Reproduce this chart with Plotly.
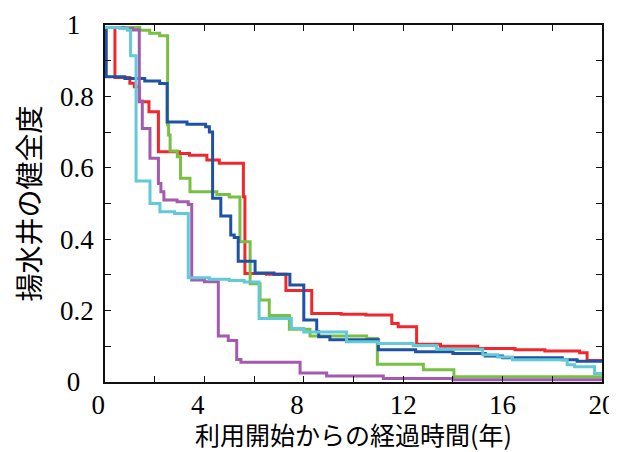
import plotly.graph_objects as go

# ---- data (years since start of use, soundness index) ----
red_x = [0, 0.4, 1.0, 1.18, 1.38, 1.77, 2.15, 3.0, 3.4, 4.1, 4.6, 5.57, 5.63, 6.5, 7.28, 8.32, 9.5, 10.5, 11.54, 11.8, 12.54, 13.5, 15.0, 16.5, 17.7, 19.1, 19.4, 20]
red_y = [0.993, 0.853, 0.837, 0.827, 0.785, 0.757, 0.645, 0.64, 0.635, 0.622, 0.613, 0.519, 0.304, 0.302, 0.256, 0.192, 0.19, 0.188, 0.164, 0.155, 0.106, 0.10, 0.094, 0.09, 0.087, 0.082, 0.06, 0.06]

green_x = [0, 1.4, 1.8, 2.2, 2.52, 2.56, 2.62, 2.91, 3.04, 3.42, 4.5, 5.0, 5.43, 5.84, 6.24, 6.61, 7.42, 8.25, 10.53, 10.96, 12.81, 14.04, 20]
green_y = [0.993, 0.985, 0.977, 0.97, 0.72, 0.692, 0.647, 0.631, 0.571, 0.533, 0.525, 0.518, 0.393, 0.275, 0.23, 0.186, 0.148, 0.129, 0.122, 0.05, 0.034, 0.015, 0.012]

blue_x = [0, 0.05, 0.8, 1.6, 2.2, 2.5, 3.3, 4.05, 4.2, 4.33, 4.66, 5.06, 5.2, 5.36, 6.04, 6.8, 7.44, 8.0, 8.52, 8.6, 9.05, 11.0, 12.5, 14.0, 15.3, 16.0, 18.4, 19.0, 20]
blue_y = [0.993, 0.855, 0.85, 0.843, 0.836, 0.728, 0.722, 0.715, 0.70, 0.515, 0.465, 0.412, 0.405, 0.338, 0.305, 0.302, 0.272, 0.174, 0.141, 0.127, 0.118, 0.09, 0.085, 0.08, 0.073, 0.068, 0.062, 0.058, 0.058]

purple_x = [0, 0.75, 1.1, 1.38, 1.5, 1.81, 2.15, 2.25, 2.37, 2.9, 3.35, 3.49, 4.0, 4.56, 4.96, 5.3, 5.47, 7.85, 8.92, 11.2, 14.0, 20]
purple_y = [0.993, 0.99, 0.986, 0.787, 0.71, 0.627, 0.556, 0.533, 0.51, 0.505, 0.497, 0.286, 0.281, 0.129, 0.116, 0.063, 0.055, 0.025, 0.017, 0.01, 0.006, 0.005]

cyan_x = [0, 0.6, 0.9, 1.03, 1.25, 1.81, 2.21, 2.8, 3.35, 4.2, 5.0, 5.6, 6.2, 7.5, 8.0, 9.72, 11.0, 12.4, 13.35, 15.2, 15.8, 16.4, 18.6, 18.9, 19.7, 20]
cyan_y = [0.993, 0.99, 0.985, 0.914, 0.563, 0.5, 0.477, 0.472, 0.292, 0.288, 0.284, 0.28, 0.178, 0.15, 0.14, 0.113, 0.108, 0.102, 0.092, 0.076, 0.07, 0.062, 0.048, 0.043, 0.024, 0.024]

x_tickvals = [0, 4, 8, 12, 16, 20]
x_ticktext = ["0\u00a0\u00a0", "4\u00a0\u00a0", "8\u00a0\u00a0", "12", "16", "20"]
y_tickvals = [0, 0.2, 0.4, 0.6, 0.8, 1]
y_ticktext = ["0\u00a0\u00a0", "0.2", "0.4", "0.6", "0.8", "1\u00a0\u00a0"]

x_title = "利用開始からの経過時間(年)"
y_title = "揚水井の健全度"

series = [
    (red_x, red_y, "#F0282D"),
    (green_x, green_y, "#78C043"),
    (blue_x, blue_y, "#2052A4"),
    (purple_x, purple_y, "#A25BAF"),
    (cyan_x, cyan_y, "#62C9D9"),
]

fig = go.Figure()
for xs, ys, col in series:
    fig.add_trace(go.Scatter(x=xs, y=ys, mode="lines", line_shape="hv",
                             line=dict(color=col, width=3), showlegend=False))

num_font = dict(family="Liberation Serif, Times New Roman, Times, serif", size=27, color="black")
cjk = "Noto Sans CJK JP"
axis_common = dict(showline=True, linecolor="#111", linewidth=1.5, mirror="allticks",
                   ticks="inside", ticklen=6, tickwidth=1.2, tickcolor="#111",
                   showgrid=False, zeroline=False, tickfont=num_font, automargin=False)

fig.update_xaxes(range=[0, 20], tickmode="array", tickvals=x_tickvals, ticktext=x_ticktext,
                 minor=dict(tick0=0, dtick=2, ticks="inside", ticklen=6, tickwidth=1.2, tickcolor="#111"),
                 title=dict(text=x_title, font=dict(family=cjk, size=25, color="black"), standoff=9),
                 ticklabelstandoff=-2,
                 **axis_common)
fig.update_yaxes(range=[0, 1], tickmode="array", tickvals=y_tickvals, ticktext=y_ticktext,
                 minor=dict(tick0=0, dtick=0.1, ticks="inside", ticklen=6, tickwidth=1.2, tickcolor="#111"),
                 title=dict(text=y_title, font=dict(family=cjk, size=28, color="black"), standoff=24),
                 ticklabelstandoff=4,
                 **axis_common)

# the page body adds an 8px offset, so the figure is sized to fit the window
fig.update_layout(width=609, height=444, margin=dict(l=97, r=15, t=17, b=70),
                  paper_bgcolor="white", plot_bgcolor="white")

fig.write_html("out.html")
